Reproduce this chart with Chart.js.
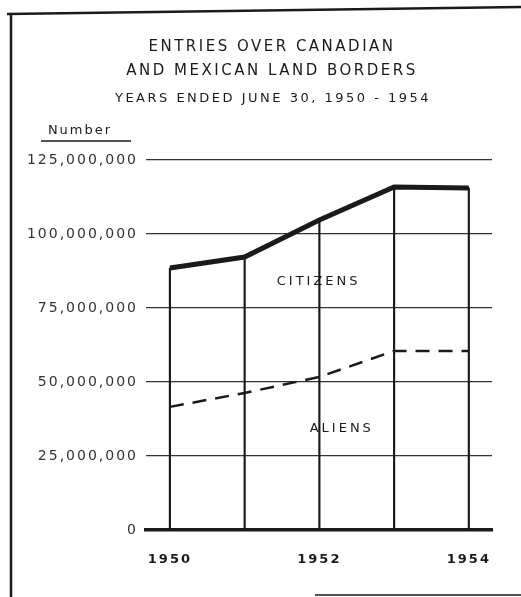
<!DOCTYPE html>
<html>
<head>
<meta charset="utf-8">
<script src="https://cdn.jsdelivr.net/npm/chart.js@4/dist/chart.umd.min.js"></script>
<style>
  html, body { margin: 0; padding: 0; background: #fff; }
  #wrap { width: 521px; height: 597px; position: relative; }
</style>
</head>
<body>
<div id="wrap"><canvas id="canvas"></canvas></div>
<script>
// Data
const years = [1950, 1951, 1952, 1953, 1954];
const totalEntries = [88500000, 92200000, 104700000, 115900000, 115500000]; // upper line (citizens + aliens)
const alienEntries = [41600000, 46300000, 51700000, 60500000, 60500000];
const yTicks = [0, 25000000, 50000000, 75000000, 100000000, 125000000];
const xTickYears = [1950, 1952, 1954];

const titleLines = ['ENTRIES OVER CANADIAN', 'AND MEXICAN LAND BORDERS'];
const subTitle = 'YEARS ENDED JUNE 30, 1950 - 1954';

const ink = '#1a1a1a';
const fontFamily = '"DejaVu Sans", sans-serif';

function fmt(n) {
  return n.toLocaleString('en-US');
}

// draws the frame, titles, the "Number" heading and series labels
const decorations = {
  id: 'decorations',
  beforeDraw(chart) {
    const ctx = chart.ctx;
    ctx.save();
    ctx.strokeStyle = ink;
    // frame lines
    ctx.lineWidth = 2.5;
    ctx.beginPath();
    ctx.moveTo(7, 14);
    ctx.lineTo(521, 7);
    ctx.moveTo(11, 13);
    ctx.lineTo(11, 597);
    ctx.stroke();
    ctx.lineWidth = 1.5;
    ctx.beginPath();
    ctx.moveTo(315, 595);
    ctx.lineTo(521, 595);
    ctx.stroke();
    ctx.restore();
    // spaced lettering for the axis labels as well
    ctx.letterSpacing = '2px';
  },
  afterDraw(chart) {
    const ctx = chart.ctx;
    const x = chart.scales.x;
    const y = chart.scales.y;
    ctx.save();
    ctx.fillStyle = ink;
    ctx.textAlign = 'center';
    ctx.textBaseline = 'middle';

    ctx.font = '15px ' + fontFamily;
    ctx.letterSpacing = '2.5px';
    ctx.fillText(titleLines[0], 272, 47);
    ctx.fillText(titleLines[1], 272, 71);

    ctx.font = '13px ' + fontFamily;
    ctx.letterSpacing = '2.5px';
    ctx.fillText(subTitle, 273, 99);

    ctx.letterSpacing = '2px';
    ctx.font = '13px ' + fontFamily;
    ctx.fillText('Number', 80, 131);
    ctx.lineWidth = 1.5;
    ctx.strokeStyle = ink;
    ctx.beginPath();
    ctx.moveTo(41, 141);
    ctx.lineTo(131, 141);
    ctx.stroke();

    ctx.font = '13px ' + fontFamily;
    ctx.letterSpacing = '3px';
    ctx.fillText('CITIZENS', x.getPixelForValue(1951.99), y.getPixelForValue(83800000));
    ctx.fillText('ALIENS', x.getPixelForValue(1952.3), y.getPixelForValue(34100000));
    ctx.restore();
  }
};

const ctx = document.getElementById('canvas').getContext('2d');

new Chart(ctx, {
  data: {
    datasets: [
      {
        type: 'line',
        label: 'Citizens',
        data: years.map((yr, i) => ({ x: yr, y: totalEntries[i] })),
        borderColor: ink,
        borderWidth: 5,
        pointRadius: 0,
        tension: 0,
        order: 1
      },
      {
        type: 'line',
        label: 'Aliens',
        data: years.map((yr, i) => ({ x: yr, y: alienEntries[i] })),
        borderColor: ink,
        borderWidth: 2.5,
        borderDash: [14, 9],
        pointRadius: 0,
        tension: 0,
        order: 2
      },
      {
        // vertical rules running from the base up to the upper line
        type: 'bar',
        label: 'rules',
        data: years.map((yr, i) => ({ x: yr, y: totalEntries[i] })),
        backgroundColor: ink,
        barThickness: 1.5,
        order: 3
      }
    ]
  },
  options: {
    responsive: true,
    maintainAspectRatio: false,
    animation: false,
    layout: { padding: { top: 160, right: 29, left: 0, bottom: 0 } },
    plugins: {
      legend: { display: false },
      tooltip: { enabled: false },
      title: { display: false }
    },
    scales: {
      x: {
        type: 'linear',
        offset: false,
        min: 1949.68,
        max: 1954.31,
        afterBuildTicks(scale) {
          scale.ticks = xTickYears.map(v => ({ value: v }));
        },
        afterFit(scale) {
          scale.height = 67;
        },
        grid: { display: false, drawTicks: false, offset: false },
        border: { display: true, color: ink, width: 3.5 },
        ticks: {
          color: ink,
          padding: 22,
          maxRotation: 0,
          font: { family: fontFamily, size: 13, weight: 'bold' },
          callback: v => String(v)
        }
      },
      y: {
        min: 0,
        max: 125000000,
        afterBuildTicks(scale) {
          scale.ticks = yTicks.map(v => ({ value: v }));
        },
        afterFit(scale) {
          scale.width = 146;
        },
        grid: { color: '#333', lineWidth: 1.3, drawTicks: false },
        border: { display: false },
        ticks: {
          color: '#333',
          padding: 8,
          font: { family: fontFamily, size: 14 },
          callback: v => fmt(v)
        }
      }
    }
  },
  plugins: [decorations]
});
</script>
</body>
</html>
